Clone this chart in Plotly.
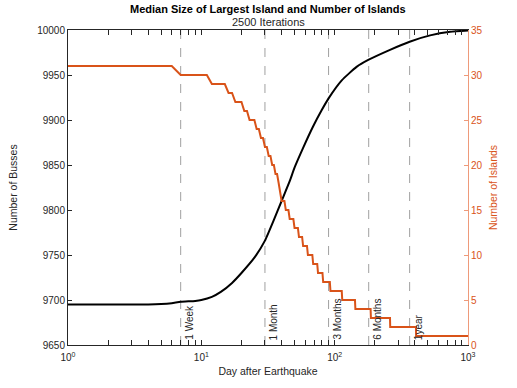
import math

import plotly.graph_objects as go

# median size of the largest island (busses) vs. day after earthquake
bus_day = [1, 2, 3, 4, 5, 6, 7, 9, 10, 12, 14, 17, 20, 25, 30, 35, 40, 46, 50,
           58, 69, 80, 90, 113, 146, 180, 260, 365, 520, 735, 1000]
bus_size = [9695, 9695, 9695, 9695, 9695.5, 9696.5, 9698, 9699, 9700, 9703.5, 9709,
            9719, 9730, 9747, 9766, 9789, 9810, 9832, 9847, 9869, 9893, 9911, 9924,
            9944, 9959, 9967, 9978, 9987, 9994, 9998, 9999.5]

# number of islands: first day of each new level
isl_start = [1, 7, 12, 16, 18, 21, 23, 26, 28, 30, 32, 34, 36, 38, 39, 40, 43, 46, 50,
             54, 58, 63, 69, 75, 82, 93, 114, 143, 187, 261, 408]
isl_level = [31, 30, 29, 28, 27, 26, 25, 24, 23, 22, 21, 20, 19, 18, 17, 16, 15, 14, 13,
             12, 11, 10, 9, 8, 7, 6, 5, 4, 3, 2, 1]
last_day = 1000

# reference lines
mark_day = [7, 30, 90, 180, 365]
mark_text = ["1 Week", "1 Month", "3 Months", "6 Months", "1year"]

RED = "#D95319"
AX = "#262626"
FONT = "Liberation Sans, Arial, sans-serif"

# daily values held until the next change
isl_x, isl_y = [], []
for i, (d, v) in enumerate(zip(isl_start, isl_level)):
    end = isl_start[i + 1] - 1 if i + 1 < len(isl_start) else last_day
    isl_x.append(d)
    isl_y.append(v)
    if end > d:
        isl_x.append(end)
        isl_y.append(v)

fig = go.Figure()
fig.add_trace(go.Scatter(x=bus_day, y=bus_size, mode="lines",
                         line=dict(color="black", width=2, shape="spline", smoothing=0.5),
                         showlegend=False))
fig.add_trace(go.Scatter(x=isl_x, y=isl_y, mode="lines", yaxis="y2",
                         line=dict(color=RED, width=2), showlegend=False))

for d, t in zip(mark_day, mark_text):
    fig.add_shape(type="line", xref="x", yref="paper", x0=d, x1=d, y0=0, y1=1,
                  line=dict(color="#A0A0A0", width=1, dash="dash"), layer="below")
    # annotations on a log axis take log10 positions
    fig.add_annotation(x=math.log10(d), xref="x", y=0, yref="paper", text=t, textangle=-90,
                       showarrow=False, xanchor="left", yanchor="bottom",
                       xshift=1, yshift=3, font=dict(size=10, color=AX, family=FONT))

minor_vals = [m * 10 ** e for e in range(3) for m in range(2, 10)]

fig.update_layout(
    width=517, height=388,
    margin=dict(l=68, r=49, t=30, b=43, autoexpand=False),
    plot_bgcolor="white", paper_bgcolor="white",
    font=dict(family=FONT, size=10, color=AX),
    xaxis=dict(type="log", range=[0, 3], tickvals=[1, 10, 100, 1000],
               ticktext=["10<sup>0</sup>", "10<sup>1</sup>", "10<sup>2</sup>", "10<sup>3</sup>"],
               ticks="inside", ticklen=5, tickcolor=AX, showline=True, linecolor=AX,
               linewidth=1, mirror="allticks", showgrid=False, zeroline=False,
               automargin=False, ticklabelstandoff=3,
               minor=dict(tickvals=minor_vals, ticks="inside", ticklen=3, tickcolor=AX,
                          showgrid=False),
               title=dict(text="Day after Earthquake", standoff=5,
                          font=dict(size=10.5))),
    yaxis=dict(range=[9650, 10000], dtick=50, tickformat="d", ticks="inside", ticklen=4,
               tickcolor=AX, showline=True, linecolor=AX, linewidth=1, showgrid=False,
               zeroline=False, automargin=False,
               title=dict(text="Number of Busses", standoff=17, font=dict(size=10.5))),
    yaxis2=dict(range=[0, 35], dtick=5, overlaying="y", side="right", ticks="inside",
                ticklen=4, tickcolor="#EE9A7A", showline=True, linecolor="#EE9A7A",
                linewidth=1, showgrid=False, zeroline=False, automargin=False,
                tickfont=dict(color=RED), color=RED,
                title=dict(text="Number of Islands", standoff=8,
                           font=dict(size=10.5, color=RED))),
)

fig.add_annotation(x=0.5, xref="paper", y=1, yref="paper", yanchor="bottom", yshift=13,
                   text="<b>Median Size of Largest Island and Number of Islands</b>",
                   showarrow=False, font=dict(size=11, color="black", family=FONT))
fig.add_annotation(x=0.5, xref="paper", y=1, yref="paper", yanchor="bottom", yshift=0,
                   text="2500 Iterations", showarrow=False,
                   font=dict(size=11, color=AX, family=FONT))

# drop the default page margin so the figure sits at the window corner
fig.write_html("out.html", config={"displayModeBar": False},
               post_script="document.body.style.margin = '0';")
